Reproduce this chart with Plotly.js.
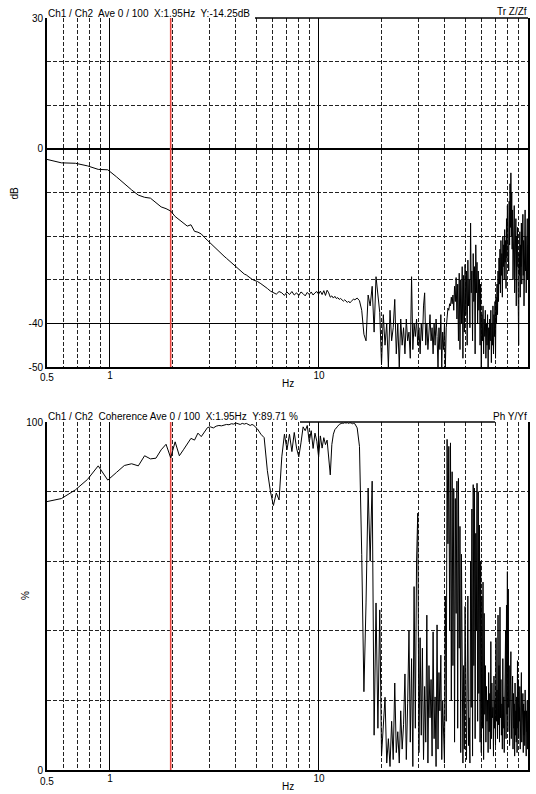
<!DOCTYPE html>
<html><head><meta charset="utf-8">
<script src="https://cdn.plot.ly/plotly-3.0.1.min.js"></script>
<style>html,body{margin:0;padding:0;background:#fff;}#chart{width:536px;height:794px;}</style>
</head><body><div id="chart"></div>
<script>
// FFT bin width (cursor sits on bin 20 = 1.95 Hz)
const binWidthHz = 100 / 1024;
const cursorHz = 1.953125;

// Transfer function magnitude, dB  (bins 5..50, step 1)
const tfDbA = [
 -2.3,-3.2,-3.3,-3.9,-4.7,-4.8,-6.4,-8.0,-9.4,-10.6,
 -11.1,-11.3,-12.3,-13.3,-13.7,-14.25,-15.5,-16.3,-17.1,-17.7,
 -17.4,-18.9,-19.1,-19.5,-20.3,-21.0,-21.6,-22.3,-22.9,-23.5,
 -24.2,-24.6,-25.1,-25.6,-26.1,-26.5,-27.1,-27.5,-27.9,-28.3,
 -28.7,-28.9,-29.3,-29.6,-29.9,-30.1
];
// bins 52..150, step 2
const tfDbB = [
 -30.4,-30.9,-31.4,-32.0,-32.6,-33.0,-33.3,-32.7,-33.0,-33.6,
 -32.8,-33.4,-32.7,-33.5,-33.0,-33.6,-32.8,-33.2,-33.7,-32.9,
 -33.4,-32.8,-33.5,-33.0,-32.7,-33.3,-32.6,-33.4,-32.5,-33.6,
 -32.4,-33.0,-34.0,-33.7,-34.2,-33.8,-34.3,-34.1,-34.5,-34.3,
 -34.7,-34.9,-34.6,-35.0,-35.2,-34.9,-35.3,-35.0,-34.7,-34.4
];
// bins 152..1024, step 4
const tfDbC = [
 -34.6,-34.2,-34.8,-37.0,-42.5,-44.0,-33.5,-36.0,-31.5,-42.0,
 -29.3,-34.0,-37.5,-49.5,-38,-45,-40,-50,-37,-44,
 -41,-34.5,-47,-40,-50,-39,-45,-41,-47,-39,
 -44,-42,-48,-29.3,-46,-40,-43,-39,-45,-41,
 -47,-40,-44,-36,-33,-45,-40,-46,-42,-38,
 -44,-41,-47,-40,-45,-39,-43,-50,-41,-46,
 -38,-50,-42,-46,-40,-50,-41,-38,-36.5,-37,
 -35.5,-36,-34,-35.5,-33.5,-37,-31.5,-35,-29.5,-39,
 -31,-44,-28.5,-46,-30,-40,-27,-48,-29,-42,
 -26.5,-38,-28,-45,-25.5,-36,-30,-41,-17,-33,
 -28,-44,-24,-35,-27,-47,-22,-33,-26,-40,
 -28,-37,-30,-45,-31,-50,-38,-44,-36,-47,
 -39,-43,-37,-48,-40,-45,-38,-50,-41,-46,
 -39,-44,-37,-49,-40,-45,-36,-47,-38,-43,
 -35,-48,-34,-40,-31,-38,-28,-35,-25,-31,
 -23,-33,-21,-29,-24,-34,-20,-27,-22,-30,
 -18.5,-26,-21,-32,-16,-25,-13,-24,-19,-28,
 -12,-22,-8,-18,-5.5,-20,-10,-23,-14,-30,
 -17,-26,-13,-33,-19,-28,-16,-36,-20,-27,
 -18,-32,-21,-45,-24,-29,-19,-34,-22,-27,
 -17,-31,-20,-26,-15,-29,-21,-36,-18,-25,
 -14,-28,-20,-33,-19,-24,-16,-30,-22
];

// Coherence, %  (same bins)
const cohA = [
 77,78,80.5,83.5,87.4,83.3,85.5,87.5,88.0,87.4,
 90.3,89.4,89.6,92.0,93.6,89.71,94.3,90.3,92.0,93.8,
 95.3,94.8,96.8,95.8,97.0,98.4,98.6,98.3,98.8,99.0,
 98.9,99.1,99.3,99.2,99.5,99.4,99.7,99.5,99.3,99.6,
 99.4,99.6,99.2,99.0,99.3,99.0
];
const cohB = [
 98.0,96.5,95.5,86,80,76,79.6,77.6,90,96.5,
 92,96.5,91.5,97.0,92.5,90.0,94.0,98.6,97.5,99.0,
 94.3,97.5,92.4,96.8,94.5,90.0,96.0,92.5,95.5,93.5,
 94.8,90.5,84.8,93.5,96.5,97.8,98.2,98.8,99.3,99.5,
 99.7,99.6,99.8,99.7,99.8,99.6,99.8,99.7,99.5,99.6
];
const cohC = [
 99.5,98.3,93,62,22.5,48,81,60,83,10,
 48,12,46,4,12,20.9,2,9,1,14,
 3,25,5,11,2,17,6,13,27.6,3,
 19,40,8,32,1,52.7,12,60,73.8,5,
 38,10,35,3,24,8,44.5,2,30,15,
 26,4,39.7,9,21,1,41.7,6,28,17,
 33,3,20,10,2,50,14,95,65,93,
 40,94,20,85.7,30,80.9,8,78,45,83,
 12,83.8,35,70,5,62,18,2,30,6,
 47,10,3,25,50,7,15,2,60,18,
 75,4,82,30,81,9,68,40,82.4,14,
 80,22,70.4,8,60,5,50,12,54,3,
 45,16,30,8,24,14,20,5,28,11,
 22,6,36.9,9,25,15,18,4,27,12,
 20,7,38,14,23,9,44.5,13,30,8,
 46.8,15,26,10,19,6,32,12,21,5,
 28,14,40,9,47.4,16,57,11,52,18,
 30,7,24,13,34,9,20,15,27,6,
 22,12,19,4,25,10,17,8,21,5,
 31.4,12,26,9,18,14,24,6,20,11,
 28,8,16,13,22,5,19,10,17,7,
 23,12,18,4,17,11,20,6,14
];

const xMajorTicks = [1, 10, 100];
const xMinorTicks = [0.6,0.7,0.8,0.9,2,3,4,5,6,7,8,9,20,30,40,50,60,70,80,90];
const dbMajorTicks = [30, 0, -40, -50];
const dbMinorTicks = [20, 10, -10, -20, -30];
const pctMajorTicks = [100, 0];
const pctMinorTicks = [20, 40, 60, 80];

function binFreqs(start, step, n) {
  const out = [];
  for (let i = 0; i < n; i++) out.push((start + i * step) * binWidthHz);
  return out;
}
const freq = [].concat(
  binFreqs(5, 1, tfDbA.length),
  binFreqs(52, 2, tfDbB.length),
  binFreqs(152, 4, tfDbC.length)
);
const tfDb = [].concat(tfDbA, tfDbB, tfDbC);
const coh = [].concat(cohA, cohB, cohC);

const FONT = 'Liberation Sans, Arial, Helvetica, sans-serif';
const tickFont = {family: FONT, size: 10, color: '#000'};
const DASH = '4px,2px';

function xAxis(anchor) {
  return {
    type: 'log', range: [Math.log10(0.5), 2], anchor: anchor,
    tickmode: 'array', tickvals: xMajorTicks, ticktext: xMajorTicks.map(String),
    ticks: '', ticklabelstandoff: -2,
    showgrid: true, gridcolor: '#000', gridwidth: 1,
    showline: true, linecolor: '#000', linewidth: 2, mirror: false, zeroline: false,
    tickfont: tickFont, fixedrange: true,
    minor: {tickmode: 'array', tickvals: xMinorTicks, showgrid: true, gridcolor: '#222', gridwidth: 1, griddash: DASH, ticks: ''}
  };
}
function yAxis(range, major, minor, domain, anchor) {
  return {
    range: range, domain: domain, anchor: anchor,
    tickmode: 'array', tickvals: major, ticktext: major.map(String),
    ticks: '', showgrid: true, gridcolor: '#000', gridwidth: 1.3,
    showline: true, linecolor: '#000', linewidth: 2, mirror: true, zeroline: false,
    tickfont: tickFont, fixedrange: true,
    minor: {tickmode: 'array', tickvals: minor, showgrid: true, gridcolor: '#222', gridwidth: 1, griddash: DASH, ticks: ''}
  };
}

const topDom = [(770 - 367) / 752, 1];
const botDom = [0, (770 - 422) / 752];
const pxX = p => (p - 47) / 481;
const pxY = p => (770 - p) / 752;

const traces = [
  {x: [cursorHz, cursorHz], y: [-50, 30], xaxis: 'x', yaxis: 'y', mode: 'lines', line: {color: '#e8453f', width: 1.6}, hoverinfo: 'skip'},
  {x: freq, y: tfDb, xaxis: 'x', yaxis: 'y', mode: 'lines', line: {color: '#000', width: 1}},
  {x: [cursorHz, cursorHz], y: [0, 100], xaxis: 'x2', yaxis: 'y2', mode: 'lines', line: {color: '#e8453f', width: 1.6}, hoverinfo: 'skip'},
  {x: freq, y: coh, xaxis: 'x2', yaxis: 'y2', mode: 'lines', line: {color: '#000', width: 1}}
];

const ann = (o) => Object.assign({showarrow: false, xref: 'paper', yref: 'paper', font: tickFont, borderpad: 0}, o);
const NB = '\u00a0';

const layout = {
  width: 536, height: 794,
  margin: {l: 47, r: 8, t: 18, b: 24, pad: 0},
  paper_bgcolor: '#fff', plot_bgcolor: '#fff',
  showlegend: false,
  xaxis: xAxis('y'),
  yaxis: yAxis([-50, 30], dbMajorTicks, dbMinorTicks, topDom, 'x'),
  xaxis2: xAxis('y2'),
  yaxis2: yAxis([0, 100], pctMajorTicks, pctMinorTicks, botDom, 'x2'),
  shapes: [
    {type: 'line', xref: 'paper', yref: 'paper', x0: pxX(255), x1: 1, y0: 1, y1: 1, line: {color: '#000', width: 1.5}},
    {type: 'line', xref: 'paper', yref: 'paper', x0: pxX(300), x1: pxX(495), y0: botDom[1], y1: botDom[1], line: {color: '#000', width: 1.5}}
  ],
  annotations: [
    ann({text: 'Ch1 / Ch2' + NB + ' Ave 0 / 100' + NB + ' X:1.95Hz' + NB + ' Y:-14.25dB', x: 0, xanchor: 'left', y: 1, yanchor: 'bottom', yshift: -2}),
    ann({text: 'Tr Z/Zf', x: 1, xanchor: 'right', y: 1, yanchor: 'bottom', yshift: 0}),
    ann({text: 'Ch1 / Ch2' + NB + ' Coherence Ave 0 / 100' + NB + ' X:1.95Hz' + NB + ' Y:89.71 %', x: 0, xanchor: 'left', y: botDom[1], yanchor: 'bottom', yshift: -1}),
    ann({text: 'Ph Y/Yf', x: 1, xanchor: 'right', y: botDom[1], yanchor: 'bottom', yshift: -1}),
    ann({text: 'dB', x: pxX(13.5), y: pxY(193), xanchor: 'center', yanchor: 'middle', textangle: -90}),
    ann({text: '%', x: pxX(25), y: pxY(596), xanchor: 'center', yanchor: 'middle', textangle: -90}),
    ann({text: 'Hz', x: 0.5, y: pxY(383), xanchor: 'center', yanchor: 'middle'}),
    ann({text: 'Hz', x: 0.5, y: pxY(787), xanchor: 'center', yanchor: 'middle'}),
    ann({text: '0.5', x: 0, y: pxY(377.5), xanchor: 'center', yanchor: 'middle'}),
    ann({text: '0.5', x: 0, y: pxY(781.5), xanchor: 'center', yanchor: 'middle'})
  ]
};

Plotly.newPlot('chart', traces, layout, {staticPlot: true, displayModeBar: false});
</script>
</body></html>
